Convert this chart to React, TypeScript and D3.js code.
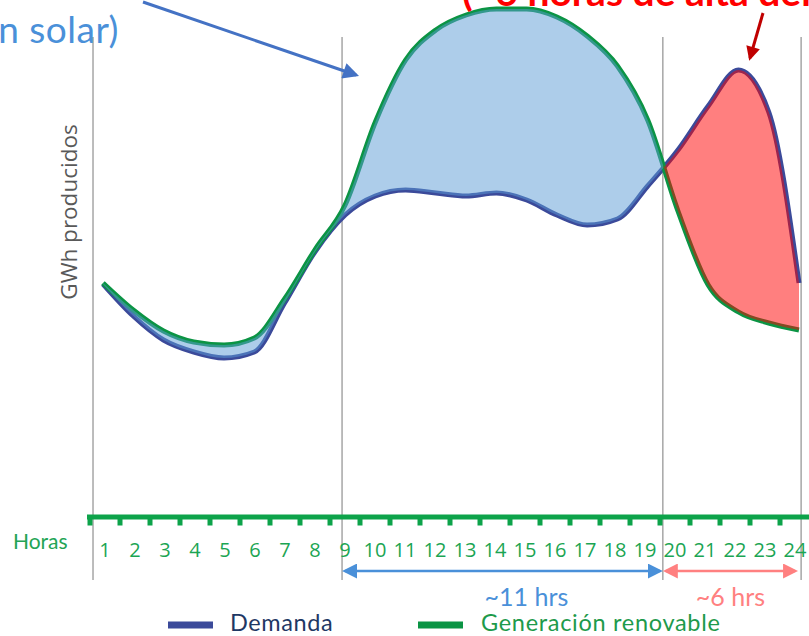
import * as d3 from "d3";

// hours of the day (x categories)
const hours = [1, 2, 3, 4, 5, 6, 7, 8, 9, 10, 11, 12, 13, 14, 15, 16, 17, 18, 19, 20, 21, 22, 23, 24];

// GWh (arbitrary units)
const demanda = [23.3, 20.1, 17.7, 16.5, 15.9, 16.5, 21.4, 26.5, 30.2, 32.1, 32.7, 32.4, 32.1, 32.4, 31.7, 30.2, 29.2, 29.8, 33.1, 36.7, 41.1, 44.7, 40.5, 23.4];
const generacion = [23.4, 20.7, 18.6, 17.5, 17.2, 17.9, 21.8, 26.7, 31.2, 39.5, 45.7, 48.7, 50.2, 50.8, 50.8, 50.0, 48.1, 45.1, 39.7, 30.6, 23.2, 20.5, 19.4, 18.7];

// vertical guide lines (in hours) and the two bracketed spans
const dividers = [0.67, 8.9, 19.5, 24.07];
const spanBounds: [number, number][] = [[8.9, 19.5], [19.5, 23.97]];
const spanLabels = ["~11 hrs", "~6 hrs"];
const seriesLabels = ["Demanda", "Generación renovable"];

const W = 809;
const H = 636;
const C_DEM = "#3B4A9A";
const C_GEN = "#0B9444";
const C_AXIS = "#0DA34A";
const SPAN_COLORS = ["#4A90D9", "#FF8080"];
const GEO = "Lato, 'Noto Sans', sans-serif";
const CAL = "'Open Sans', 'Noto Sans', sans-serif";

export default function App() {
  const xLine = d3.scaleLinear().domain([1, 24]).range([103, 799]);
  const xBand = d3.scaleBand<string>().domain(hours.map(String)).range([90, 810]);
  const y = d3.scaleLinear().domain([0, 50]).range([517, 17]);

  const idx = d3.range(hours.length);
  const line = (vals: number[]) =>
    d3.line<number>()
      .x((i) => xLine(hours[i]))
      .y((i) => y(vals[i]))
      .curve(d3.curveMonotoneX)(idx) || "";
  const area = d3.area<number>()
    .x((i) => xLine(hours[i]))
    .y0((i) => y(demanda[i]))
    .y1((i) => y(generacion[i]))
    .curve(d3.curveMonotoneX)(idx) || "";

  // where demand overtakes generation in the evening
  let cross = hours[hours.length - 1];
  for (let i = 12; i < hours.length - 1; i++) {
    const a = generacion[i] - demanda[i];
    const b = generacion[i + 1] - demanda[i + 1];
    if (a > 0 && b <= 0) {
      cross = hours[i] + a / (a - b);
      break;
    }
  }
  const xc = xLine(cross);

  const top = 37;
  const bottom = 580;
  const arrowY = 571;

  return (
    <svg width={W} height={H} style={{ position: "absolute", left: 0, top: 0, background: "#fff" }}>
      <defs>
        <clipPath id="clipBlue"><rect x={0} y={0} width={xc} height={H} /></clipPath>
        <clipPath id="clipRed"><rect x={xc} y={0} width={W - xc} height={H} /></clipPath>
        {SPAN_COLORS.map((c, i) => (
          <marker key={i} id={`span${i}`} viewBox="0 0 10 10" refX={8} refY={5} markerWidth={15} markerHeight={15}
            markerUnits="userSpaceOnUse" orient="auto-start-reverse">
            <path d="M0,0 L10,5 L0,10 z" fill={c} />
          </marker>
        ))}
        <marker id="blueArrow" viewBox="0 0 10 10" refX={8} refY={5} markerWidth={20} markerHeight={16}
          markerUnits="userSpaceOnUse" orient="auto">
          <path d="M0,0 L10,5 L0,10 z" fill="#4472C4" />
        </marker>
        <marker id="redArrow" viewBox="0 0 10 10" refX={8} refY={5} markerWidth={16} markerHeight={14}
          markerUnits="userSpaceOnUse" orient="auto">
          <path d="M0,0 L10,5 L0,10 z" fill="#C00000" />
        </marker>
      </defs>

      {/* vertical guides */}
      {dividers.map((d, i) => (
        <line key={i} x1={xLine(d)} x2={xLine(d)} y1={top} y2={bottom} stroke="#A6A6A6" strokeWidth={1.5} />
      ))}

      {/* series lines */}
      <path d={line(demanda)} fill="none" stroke={C_DEM} strokeWidth={5} />
      <path d={line(generacion)} fill="none" stroke={C_GEN} strokeWidth={5} />

      {/* surplus / deficit fills */}
      <path d={area} fill="#5B9BD5" fillOpacity={0.5} clipPath="url(#clipBlue)" />
      <path d={area} fill="#FF0000" fillOpacity={0.5} clipPath="url(#clipRed)" />

      {/* hour axis */}
      <line x1={87} x2={W} y1={517} y2={517} stroke={C_AXIS} strokeWidth={5} />
      {hours.map((h) => (
        <rect key={`t${h}`} x={(xBand(String(h)) as number) - 2.5} y={518} width={5} height={7.5} fill={C_AXIS} />
      ))}
      {hours.map((h) => (
        <text key={`l${h}`} x={(xBand(String(h)) as number) + xBand.bandwidth() / 2} y={557}
          textAnchor="middle" fontFamily={CAL} fontSize={20} fill="#1BA553">{h}</text>
      ))}
      <text x={13} y={549} fontFamily={GEO} fontSize={21} fill="#23A455">Horas</text>

      {/* y label */}
      <text transform="translate(77,212) rotate(-90)" textAnchor="middle" fontFamily={CAL} fontSize={22.5} fill="#595959">
        GWh producidos
      </text>

      {/* span brackets */}
      {spanBounds.map(([a, b], i) => (
        <g key={i}>
          <line x1={xLine(a) + 3} x2={xLine(b) - 3} y1={arrowY} y2={arrowY} stroke={SPAN_COLORS[i]} strokeWidth={2.5}
            markerStart={`url(#span${i})`} markerEnd={`url(#span${i})`} />
          <text x={(xLine(a) + xLine(b)) / 2 + (i === 0 ? 24 : 0)} y={606} textAnchor="middle" fontFamily={GEO}
            fontSize={25} fill={SPAN_COLORS[i]}>{spanLabels[i]}</text>
        </g>
      ))}

      {/* legend */}
      <line x1={168} x2={213} y1={625} y2={625} stroke={C_DEM} strokeWidth={7} />
      <text x={230} y={631} fontFamily={GEO} fontSize={23.5} letterSpacing={0.6} fill="#1F3864">{seriesLabels[0]}</text>
      <line x1={418} x2={463} y1={625} y2={625} stroke={C_GEN} strokeWidth={7} />
      <text x={481} y={631} fontFamily={GEO} fontSize={23.5} letterSpacing={0.7} fill="#1E9A4B">{seriesLabels[1]}</text>

      {/* slide annotations, partly cut off at the top */}
      <text x={119} y={43} textAnchor="end" fontFamily={GEO} fontSize={37} letterSpacing={0.5} fill="#4A90D9">
        (exceso de generación solar)
      </text>
      <text x={462} y={6} fontFamily={GEO} fontSize={39} fontWeight={700} fill="#FF0000">
        (~6 horas de alta demanda)
      </text>
      <line x1={143} y1={2} x2={356} y2={75} stroke="#4472C4" strokeWidth={3} markerEnd="url(#blueArrow)" />
      <line x1={763} y1={13} x2={750} y2={58} stroke="#C00000" strokeWidth={3} markerEnd="url(#redArrow)" />
    </svg>
  );
}
